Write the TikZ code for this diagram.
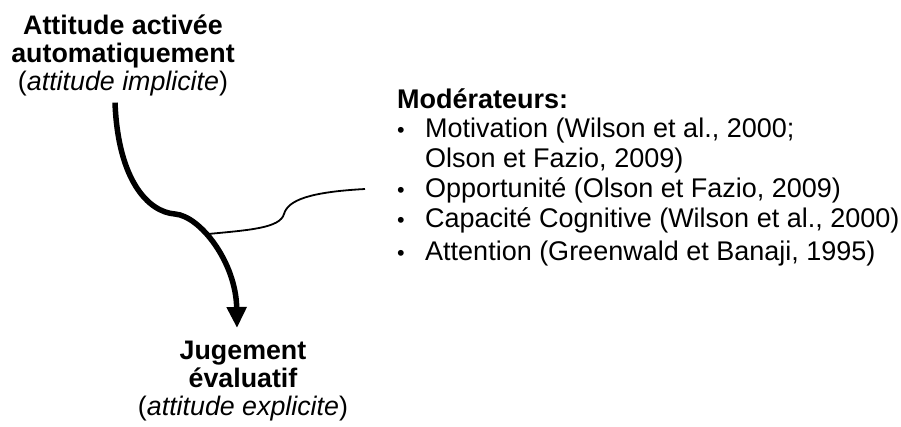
\documentclass[tikz,border=0pt]{standalone}
\usepackage{fontspec}
\setmainfont{Liberation Sans}
\usetikzlibrary{arrows.meta}

\newcommand{\listbullet}{\makebox[28pt][l]{\scalebox{0.8}{•}}}

\tikzset{
  attitude/.style={align=center, inner sep=0pt, font=\fontsize{26.8}{28}\selectfont},
  modlist/.style={align=left, inner sep=0pt, font=\fontsize{27}{29.8}\selectfont},
  flow/.style={line width=5.5pt, -{Triangle[length=21pt,width=19pt]}},
  moderate/.style={line width=1.8pt},
}

\begin{document}
\begin{tikzpicture}[x=1pt,y=-1pt]
  \useasboundingbox (0,0) rectangle (901,426);

  % Implicit and explicit attitudes
  \node[attitude, anchor=north] (implicit) at (123,15)
    {\textbf{Attitude activée}\\\textbf{automatiquement}\\(\textit{attitude implicite})};
  \node[attitude, anchor=north] (explicit) at (243,341)
    {\textbf{Jugement}\\\textbf{évaluatif}\\(\textit{attitude explicite})};

  % Moderators
  \node[modlist, anchor=north west] (moderators) at (397,88)
    {\textbf{Modérateurs:}\\
     \listbullet Motivation (Wilson et al., 2000;\\
     \hspace*{28pt}Olson et Fazio, 2009)\\
     \listbullet Opportunité (Olson et Fazio, 2009)\\
     \listbullet Capacité Cognitive (Wilson et al., 2000)\\[3pt]
     \listbullet Attention (Greenwald et Banaji, 1995)};

  % Main path
  \draw[flow] ([xshift=-8pt,yshift=-6pt]implicit.south)
    .. controls (118,180) and (148,212) .. (175,214)
    .. controls (200,216) and (236,262) .. ([xshift=-6pt,yshift=13pt]explicit.north);

  % Moderation brace
  \coordinate (branch) at (208,234);
  \coordinate (modlink) at (365,189);
  \draw[moderate] (branch) .. controls (250,230) and (280,228) .. (284,214)
    .. controls (288,200) and (310,192) .. (modlink);
\end{tikzpicture}
\end{document}
